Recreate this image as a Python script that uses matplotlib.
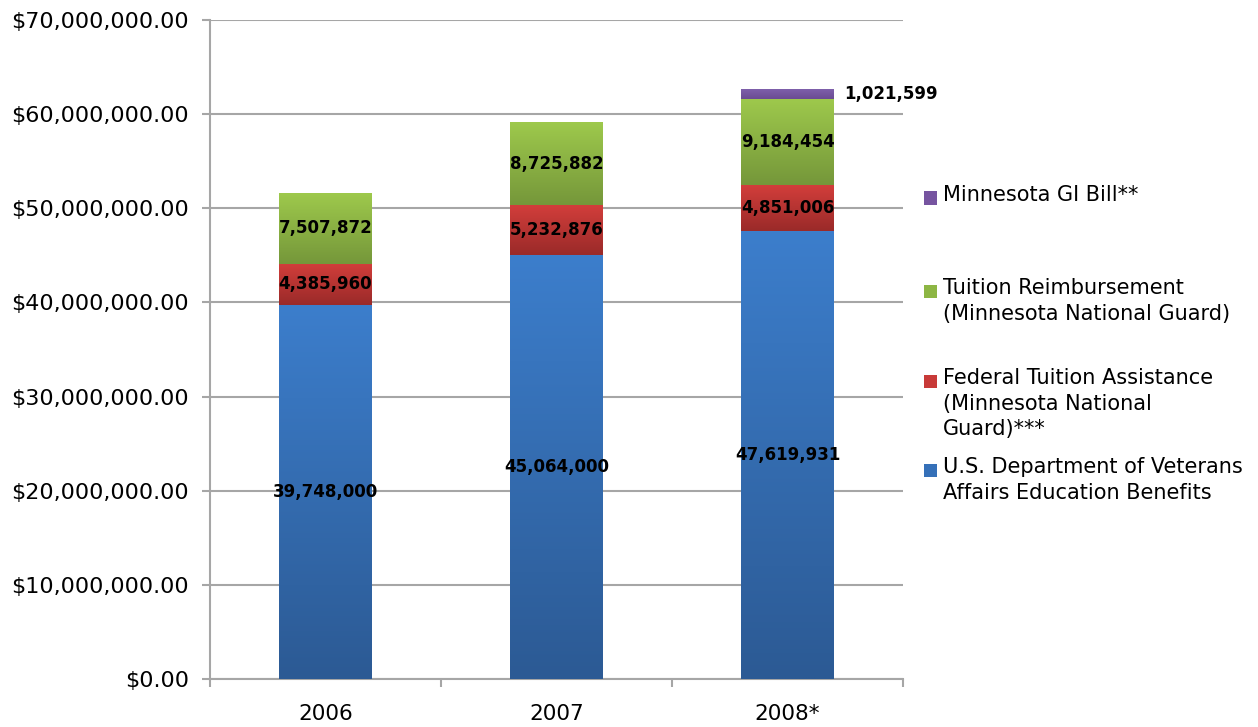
import numpy as np
import matplotlib
matplotlib.use('Agg')
import matplotlib.pyplot as plt
from matplotlib.ticker import FuncFormatter, MultipleLocator, FixedLocator
from matplotlib.colors import to_rgb
from matplotlib.patches import Rectangle

plt.rcParams.update({
    'font.family': 'DejaVu Sans',
    'font.size': 15,
})

years = ['2006', '2007', '2008*']
va_benefits = [39748000, 45064000, 47619931]
federal_ta = [4385960, 5232876, 4851006]
tuition_reimb = [7507872, 8725882, 9184454]
mn_gi_bill = [0, 0, 1021599]

series_names = [
    'U.S. Department of Veterans\nAffairs Education Benefits',
    'Federal Tuition Assistance\n(Minnesota National\nGuard)***',
    'Tuition Reimbursement\n(Minnesota National Guard)',
    'Minnesota GI Bill**',
]
# (top colour, bottom colour) of the vertical gradient in each segment
grad_colors = [
    ('#3c7ecc', '#2c5a94'),
    ('#d23e3b', '#9a2a29'),
    ('#9ec94c', '#75973a'),
    ('#7f60ab', '#6a4b92'),
]
legend_colors = ['#3570b8', '#c83a38', '#8db644', '#7654a0']

GRID = '#a6a6a6'

fig = plt.figure(figsize=(12.58, 7.27), dpi=100)
ax = fig.add_axes([210 / 1258, 48 / 727, 693 / 1258, 659 / 727])

x = np.arange(len(years))
values = [va_benefits, federal_ta, tuition_reimb, mn_gi_bill]
bottom = np.zeros(len(years))
containers = []
for vals, (c_top, c_bot) in zip(values, grad_colors):
    bars = ax.bar(x, vals, width=0.4, bottom=bottom, color=c_top, zorder=3,
                  linewidth=0)
    containers.append(bars)
    # paint a vertical gradient over each segment
    top_rgb = np.array(to_rgb(c_top))
    bot_rgb = np.array(to_rgb(c_bot))
    t = np.linspace(0, 1, 128)[:, None]
    grad = (bot_rgb * (1 - t) + top_rgb * t)[:, None, :]
    for p in bars:
        if p.get_height() <= 0:
            continue
        x0, y0 = p.get_x(), p.get_y()
        ax.imshow(grad, extent=[x0, x0 + p.get_width(), y0, y0 + p.get_height()],
                  origin='lower', aspect='auto', zorder=4, interpolation='bilinear')
    bottom = bottom + np.array(vals)

ax.set_xlim(-0.5, len(years) - 0.5)
ax.set_ylim(0, 70000000)

# data labels
for i, (vals, bars) in enumerate(zip(values, containers)):
    for j, p in enumerate(bars):
        v = vals[j]
        if v <= 0:
            continue
        yc = p.get_y() + p.get_height() / 2
        if i == 3:
            ax.text(p.get_x() + p.get_width() + 0.045, yc, f'{v:,}',
                    ha='left', va='center', fontsize=12, fontweight='bold', zorder=6)
        else:
            ax.text(p.get_x() + p.get_width() / 2, yc, f'{v:,}',
                    ha='center', va='center', fontsize=12, fontweight='bold', zorder=6)

# axes styling
ax.yaxis.set_major_locator(MultipleLocator(10000000))
ax.yaxis.set_major_formatter(FuncFormatter(lambda v, pos: f'${v:,.2f}'))
ax.grid(axis='y', color=GRID, linewidth=1.5, zorder=0)
ax.set_axisbelow(True)
for s in ['top', 'right']:
    ax.spines[s].set_visible(False)
for s in ['left', 'bottom']:
    ax.spines[s].set_color(GRID)
    ax.spines[s].set_linewidth(1.5)
ax.tick_params(axis='y', length=6, width=1.5, color=GRID, pad=9, labelsize=16)

ax.set_xticks(x)
ax.set_xticklabels(years, fontsize=15.5)
ax.tick_params(axis='x', which='major', length=0, pad=18)
ax.xaxis.set_minor_locator(FixedLocator(np.arange(len(years) + 1) - 0.5))
ax.tick_params(axis='x', which='minor', length=6, width=1.5, color=GRID)

# legend, laid out by hand like the original
legend_entries = [(3, 198), (2, 291), (1, 381), (0, 470)]
for idx, ypix in legend_entries:
    fig.patches.append(Rectangle((924 / 1258, (727 - ypix - 6.5) / 727), 13 / 1258, 13 / 727,
                                 transform=fig.transFigure, facecolor=legend_colors[idx],
                                 edgecolor='none'))
    fig.text(943 / 1258, (727 - ypix + 13) / 727, series_names[idx], ha='left', va='top',
             fontsize=15, linespacing=1.35)

fig.savefig('out.png', dpi=100)
